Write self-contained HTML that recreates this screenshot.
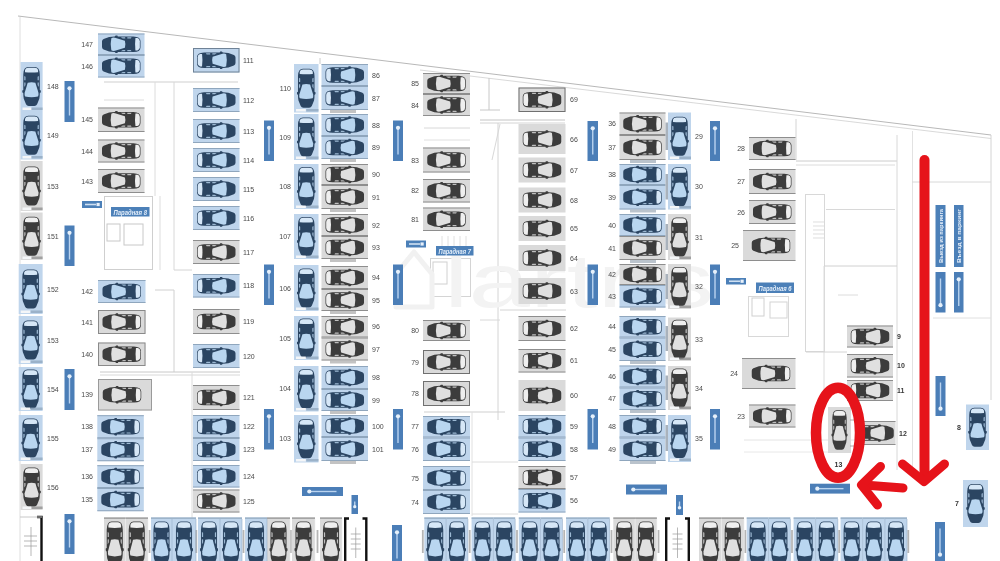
<!DOCTYPE html>
<html><head><meta charset="utf-8"><title>Parking plan</title>
<style>
html,body{margin:0;padding:0;background:#fff;}
body{width:1000px;height:561px;overflow:hidden;font-family:"Liberation Sans",sans-serif;}
svg{display:block;filter:blur(0.55px);}
.lb{font-family:"Liberation Sans",sans-serif;fill:#4a4a4a;}
text{font-family:"Liberation Sans",sans-serif;}
</style></head><body>
<svg width="1000" height="561" viewBox="0 0 1000 561">
<rect width="1000" height="561" fill="#ffffff"/>

<defs>
<symbol id="carB" overflow="visible"><g>
<path d="M0 5.2 Q0 3.6 1.6 3 L7 1.2 Q9 0.8 12.5 0.8 L13.5 0 L15.2 0 L15.6 0.8 L31 0.8 Q38 1 38 4.8 L38 10.2 Q38 14 31 14.2 L15.6 14.2 L15.2 15 L13.5 15 L12.5 14.2 Q9 14.2 7 13.8 L1.6 12 Q0 11.4 0 9.8 Z" fill="#2b4562"/>
<path d="M9.2 2.3 Q10.4 1.6 12.8 1.9 L22.6 4.4 Q23.6 7.5 22.6 10.6 L12.8 13.1 Q10.4 13.4 9.2 12.7 Q7.9 7.5 9.2 2.3 Z" fill="#b9d6f0"/>
<path d="M33 2.2 L35 2.2 Q37.3 2.7 37.3 5 L37.3 10 Q37.3 12.3 35 12.8 L33 12.8 Q32.2 7.5 33 2.2 Z" fill="#d6e7f7"/>
<path d="M18.5 1.6 L22.8 1.6 L23 2.6 L20.5 2.6 Z M25 1.6 L29.2 1.6 L28.5 2.6 L25 2.6 Z M18.5 13.4 L22.8 13.4 L23 12.4 L20.5 12.4 Z M25 13.4 L29.2 13.4 L28.5 12.4 L25 12.4 Z" fill="#b9d6f0" opacity=".8"/>
</g></symbol>
<symbol id="carG" overflow="visible"><g>
<path d="M0 5.2 Q0 3.6 1.6 3 L7 1.2 Q9 0.8 12.5 0.8 L13.5 0 L15.2 0 L15.6 0.8 L31 0.8 Q38 1 38 4.8 L38 10.2 Q38 14 31 14.2 L15.6 14.2 L15.2 15 L13.5 15 L12.5 14.2 Q9 14.2 7 13.8 L1.6 12 Q0 11.4 0 9.8 Z" fill="#3c3c3c"/>
<path d="M9.2 2.3 Q10.4 1.6 12.8 1.9 L22.6 4.4 Q23.6 7.5 22.6 10.6 L12.8 13.1 Q10.4 13.4 9.2 12.7 Q7.9 7.5 9.2 2.3 Z" fill="#e0e0e0"/>
<path d="M33 2.2 L35 2.2 Q37.3 2.7 37.3 5 L37.3 10 Q37.3 12.3 35 12.8 L33 12.8 Q32.2 7.5 33 2.2 Z" fill="#efefef"/>
<path d="M18.5 1.6 L22.8 1.6 L23 2.6 L20.5 2.6 Z M25 1.6 L29.2 1.6 L28.5 2.6 L25 2.6 Z M18.5 13.4 L22.8 13.4 L23 12.4 L20.5 12.4 Z M25 13.4 L29.2 13.4 L28.5 12.4 L25 12.4 Z" fill="#e0e0e0" opacity=".8"/>
</g></symbol>
</defs>

<line x1="18" y1="16" x2="991" y2="135" stroke="#b8b8b8" stroke-width="1"/>
<line x1="420" y1="70" x2="991" y2="138.5" stroke="#cfcfcf" stroke-width="0.8"/>
<line x1="20" y1="17" x2="20" y2="561" stroke="#dedede" stroke-width="1"/>
<line x1="991" y1="135" x2="991" y2="400" stroke="#d4d4d4" stroke-width="1"/>
<line x1="104" y1="82" x2="238" y2="82" stroke="#cfcfcf" stroke-width="1"/>
<line x1="104" y1="100" x2="144" y2="100" stroke="#dcdcdc" stroke-width="1"/>
<line x1="155" y1="82" x2="155" y2="196" stroke="#dcdcdc" stroke-width="1"/>
<line x1="174" y1="82" x2="174" y2="270" stroke="#d8d8d8" stroke-width="1"/>
<rect x="104.5" y="196.5" width="48" height="73" fill="none" stroke="#cfcfcf"/>
<rect x="107" y="224" width="13" height="17" fill="none" stroke="#c8c8c8"/>
<rect x="124" y="224" width="19" height="21" fill="none" stroke="#c8c8c8"/>
<line x1="160" y1="196" x2="160" y2="270" stroke="#dddddd" stroke-width="1"/>
<line x1="174" y1="270" x2="192" y2="270" stroke="#d4d4d4" stroke-width="1"/>
<line x1="155" y1="290" x2="174" y2="290" stroke="#d0d0d0" stroke-width="1"/>
<line x1="174" y1="290" x2="174" y2="372" stroke="#d0d0d0" stroke-width="1"/>
<line x1="100" y1="372" x2="240" y2="372" stroke="#c8c8c8" stroke-width="1"/>
<line x1="100" y1="375" x2="240" y2="375" stroke="#d8d8d8" stroke-width="1"/>
<line x1="192" y1="372" x2="192" y2="520" stroke="#dcdcdc" stroke-width="1"/>
<line x1="320" y1="58" x2="320" y2="64" stroke="#cccccc" stroke-width="1"/>
<line x1="424" y1="128" x2="470" y2="128" stroke="#d8d8d8" stroke-width="1"/>
<line x1="424" y1="140" x2="470" y2="140" stroke="#e0e0e0" stroke-width="1"/>
<line x1="489" y1="78" x2="489" y2="110" stroke="#c8c8c8" stroke-width="1"/>
<line x1="480" y1="110" x2="500" y2="110" stroke="#c8c8c8" stroke-width="1"/>
<line x1="480" y1="120" x2="565" y2="120" stroke="#c4c4c4" stroke-width="1"/>
<line x1="480" y1="123" x2="565" y2="123" stroke="#d4d4d4" stroke-width="1"/>
<line x1="498" y1="123" x2="498" y2="420" stroke="#d4d4d4" stroke-width="1"/>
<line x1="492" y1="160" x2="500" y2="124" stroke="#d8d8d8" stroke-width="1"/>
<rect x="430.5" y="258.5" width="40" height="38" fill="none" stroke="#d4d4d4"/>
<rect x="433" y="262" width="14" height="22" fill="none" stroke="#d0d0d0"/>
<line x1="442" y1="236" x2="442" y2="246" stroke="#d8d8d8" stroke-width="0.8"/>
<line x1="448" y1="236" x2="448" y2="246" stroke="#d8d8d8" stroke-width="0.8"/>
<line x1="454" y1="236" x2="454" y2="246" stroke="#d8d8d8" stroke-width="0.8"/>
<line x1="460" y1="236" x2="460" y2="246" stroke="#d8d8d8" stroke-width="0.8"/>
<line x1="466" y1="236" x2="466" y2="246" stroke="#d8d8d8" stroke-width="0.8"/>
<line x1="500" y1="271" x2="518" y2="271" stroke="#d0d0d0" stroke-width="1"/>
<line x1="500" y1="310" x2="566" y2="310" stroke="#d4d4d4" stroke-width="1"/>
<line x1="480" y1="320" x2="500" y2="320" stroke="#d8d8d8" stroke-width="1"/>
<line x1="424" y1="412" x2="505" y2="412" stroke="#cfcfcf" stroke-width="1"/>
<line x1="472" y1="412" x2="472" y2="516" stroke="#e0e0e0" stroke-width="1"/>
<line x1="472" y1="462" x2="518" y2="462" stroke="#dcdcdc" stroke-width="1"/>
<line x1="472" y1="514" x2="518" y2="514" stroke="#dcdcdc" stroke-width="1"/>
<line x1="796" y1="119" x2="796" y2="160" stroke="#d4d4d4" stroke-width="1"/>
<line x1="796" y1="161" x2="897" y2="161" stroke="#cccccc" stroke-width="1"/>
<line x1="796" y1="165" x2="895" y2="165" stroke="#dcdcdc" stroke-width="1"/>
<line x1="897" y1="135" x2="897" y2="470" stroke="#d8d8d8" stroke-width="1"/>
<line x1="912.5" y1="131" x2="912.5" y2="470" stroke="#e2e2e2" stroke-width="1"/>
<line x1="912" y1="182" x2="991" y2="182" stroke="#d8d8d8" stroke-width="1"/>
<rect x="805.5" y="194.5" width="19" height="157" fill="none" stroke="#d8d8d8"/>
<line x1="813" y1="222" x2="824" y2="222" stroke="#d0d0d0" stroke-width="0.7"/>
<line x1="813" y1="226" x2="824" y2="226" stroke="#d0d0d0" stroke-width="0.7"/>
<line x1="813" y1="230" x2="824" y2="230" stroke="#d0d0d0" stroke-width="0.7"/>
<line x1="813" y1="234" x2="824" y2="234" stroke="#d0d0d0" stroke-width="0.7"/>
<line x1="813" y1="238" x2="824" y2="238" stroke="#d0d0d0" stroke-width="0.7"/>
<line x1="826" y1="209.5" x2="895" y2="209.5" stroke="#d8d8d8" stroke-width="1"/>
<line x1="824" y1="266" x2="897" y2="266" stroke="#d0d0d0" stroke-width="1"/>
<line x1="824" y1="266" x2="824" y2="400" stroke="#dcdcdc" stroke-width="1"/>
<line x1="806" y1="352" x2="847" y2="352" stroke="#d4d4d4" stroke-width="1"/>
<line x1="838" y1="295" x2="858" y2="295" stroke="#dcdcdc" stroke-width="1"/>
<line x1="933" y1="318" x2="991" y2="318" stroke="#e0e0e0" stroke-width="1"/>
<rect x="748.5" y="296.5" width="40" height="40" fill="none" stroke="#d8d8d8"/>
<rect x="752" y="298" width="12" height="18" fill="none" stroke="#d0d0d0"/>
<rect x="770" y="302" width="17" height="16" fill="none" stroke="#d4d4d4"/>
<line x1="744" y1="440" x2="870" y2="440" stroke="#e4e4e4" stroke-width="1"/>
<line x1="744" y1="452" x2="830" y2="452" stroke="#e8e8e8" stroke-width="1"/>
<g><path d="M396 307 L396 274 L414 252 L432 274 L432 307 Z" fill="none" stroke="#f1f1f1" stroke-width="5" stroke-linejoin="round"/><text x="444" y="307" font-size="76" fill="#f3f3f3" textLength="270" lengthAdjust="spacingAndGlyphs">lartris</text></g>
<rect x="20.5" y="62" width="22.1" height="49" fill="#bfd5ec"/>
<use href="#carB" transform="translate(22.3,106.0) rotate(-90) scale(1.0263157894736843,1.2333333333333334)"/>
<rect x="22.5" y="107.5" width="8.840000000000002" height="2.5" fill="#f4f6f8"/>
<rect x="31.55" y="107.5" width="11.05" height="2.5" fill="#8fa6bd" opacity=".75"/>
<text x="47" y="89.0" text-anchor="start" font-size="7" class="lb">148</text>
<rect x="20.5" y="111" width="22.1" height="48.5" fill="#bfd5ec"/>
<use href="#carB" transform="translate(22.3,154.75) rotate(-90) scale(1.0263157894736843,1.2333333333333334)"/>
<rect x="22.5" y="156.0" width="8.840000000000002" height="2.5" fill="#f4f6f8"/>
<rect x="31.55" y="156.0" width="11.05" height="2.5" fill="#8fa6bd" opacity=".75"/>
<text x="47" y="137.75" text-anchor="start" font-size="7" class="lb">149</text>
<rect x="20.5" y="161" width="22.1" height="50" fill="#dadada"/>
<use href="#carG" transform="translate(22.3,205.5) rotate(-90) scale(1.0263157894736843,1.2333333333333334)"/>
<rect x="22.5" y="207.5" width="8.840000000000002" height="2.5" fill="#f4f6f8"/>
<rect x="31.55" y="207.5" width="11.05" height="2.5" fill="#8e8e8e" opacity=".75"/>
<text x="47" y="188.5" text-anchor="start" font-size="7" class="lb">153</text>
<rect x="20.5" y="212.5" width="22.1" height="47.5" fill="#dadada"/>
<use href="#carG" transform="translate(22.3,255.75) rotate(-90) scale(1.0263157894736843,1.2333333333333334)"/>
<rect x="22.5" y="256.5" width="8.840000000000002" height="2.5" fill="#f4f6f8"/>
<rect x="31.55" y="256.5" width="11.05" height="2.5" fill="#8e8e8e" opacity=".75"/>
<text x="47" y="238.75" text-anchor="start" font-size="7" class="lb">151</text>
<rect x="18.7" y="264" width="23.900000000000002" height="50" fill="#bfd5ec"/>
<use href="#carB" transform="translate(21.4,308.5) rotate(-90) scale(1.0263157894736843,1.2333333333333334)"/>
<rect x="20.7" y="310.5" width="9.56" height="2.5" fill="#f4f6f8"/>
<rect x="30.65" y="310.5" width="11.950000000000001" height="2.5" fill="#8fa6bd" opacity=".75"/>
<text x="47" y="291.5" text-anchor="start" font-size="7" class="lb">152</text>
<rect x="18.7" y="316" width="23.900000000000002" height="48" fill="#bfd5ec"/>
<use href="#carB" transform="translate(21.4,359.5) rotate(-90) scale(1.0263157894736843,1.2333333333333334)"/>
<rect x="20.7" y="360.5" width="9.56" height="2.5" fill="#f4f6f8"/>
<rect x="30.65" y="360.5" width="11.950000000000001" height="2.5" fill="#8fa6bd" opacity=".75"/>
<text x="47" y="342.5" text-anchor="start" font-size="7" class="lb">153</text>
<rect x="18.7" y="367" width="23.900000000000002" height="44" fill="#bfd5ec"/>
<use href="#carB" transform="translate(21.4,408.5) rotate(-90) scale(1.0263157894736843,1.2333333333333334)"/>
<rect x="20.7" y="407.5" width="9.56" height="2.5" fill="#f4f6f8"/>
<rect x="30.65" y="407.5" width="11.950000000000001" height="2.5" fill="#8fa6bd" opacity=".75"/>
<text x="47" y="391.5" text-anchor="start" font-size="7" class="lb">154</text>
<rect x="18.7" y="415" width="23.900000000000002" height="46" fill="#bfd5ec"/>
<use href="#carB" transform="translate(21.4,457.5) rotate(-90) scale(1.0263157894736843,1.2333333333333334)"/>
<rect x="20.7" y="457.5" width="9.56" height="2.5" fill="#f4f6f8"/>
<rect x="30.65" y="457.5" width="11.950000000000001" height="2.5" fill="#8fa6bd" opacity=".75"/>
<text x="47" y="440.5" text-anchor="start" font-size="7" class="lb">155</text>
<rect x="20.5" y="464" width="22.1" height="46" fill="#dadada"/>
<use href="#carG" transform="translate(22.3,506.5) rotate(-90) scale(1.0263157894736843,1.2333333333333334)"/>
<rect x="22.5" y="506.5" width="8.840000000000002" height="2.5" fill="#f4f6f8"/>
<rect x="31.55" y="506.5" width="11.05" height="2.5" fill="#8e8e8e" opacity=".75"/>
<text x="47" y="489.5" text-anchor="start" font-size="7" class="lb">156</text>
<rect x="64.5" y="81" width="10.0" height="41" fill="#4b7eb7"/>
<rect x="68.8" y="87.5" width="1.4" height="28" fill="#b9d3ef"/>
<circle cx="69.5" cy="88.3" r="2.1" fill="#e6f0fa"/>
<rect x="64.5" y="225.5" width="10.0" height="40.5" fill="#4b7eb7"/>
<rect x="68.8" y="232.0" width="1.4" height="27.5" fill="#b9d3ef"/>
<circle cx="69.5" cy="232.8" r="2.1" fill="#e6f0fa"/>
<rect x="64.5" y="369" width="10.0" height="41" fill="#4b7eb7"/>
<rect x="68.8" y="375.5" width="1.4" height="28" fill="#b9d3ef"/>
<circle cx="69.5" cy="376.3" r="2.1" fill="#e6f0fa"/>
<rect x="64.5" y="514" width="10.0" height="40" fill="#4b7eb7"/>
<rect x="68.8" y="520.5" width="1.4" height="27" fill="#b9d3ef"/>
<circle cx="69.5" cy="521.3" r="2.1" fill="#e6f0fa"/>
<rect x="98" y="33.5" width="46.5" height="21.5" fill="#bfd5ec"/>
<rect x="98" y="33.5" width="46.5" height="1" fill="#8fa6bd"/>
<rect x="98" y="54" width="46.5" height="1" fill="#8fa6bd"/>
<use href="#carB" transform="translate(102.0,35.5) scale(1.013157894736842,1.1666666666666667)"/>
<text x="93" y="46.75" text-anchor="end" font-size="7" class="lb">147</text>
<rect x="98" y="55" width="46.5" height="22.5" fill="#bfd5ec"/>
<rect x="98" y="55" width="46.5" height="1" fill="#8fa6bd"/>
<rect x="98" y="76.5" width="46.5" height="1" fill="#8fa6bd"/>
<use href="#carB" transform="translate(102.0,57.5) scale(1.013157894736842,1.1666666666666667)"/>
<text x="93" y="68.75" text-anchor="end" font-size="7" class="lb">146</text>
<rect x="98" y="107.5" width="46.5" height="24.5" fill="#dadada"/>
<rect x="98" y="107.5" width="46.5" height="1" fill="#8e8e8e"/>
<rect x="98" y="131" width="46.5" height="1" fill="#8e8e8e"/>
<use href="#carG" transform="translate(102.0,111.0) scale(1.013157894736842,1.1666666666666667)"/>
<text x="93" y="122.25" text-anchor="end" font-size="7" class="lb">145</text>
<rect x="98" y="139.5" width="46.5" height="23.0" fill="#dadada"/>
<rect x="98" y="139.5" width="46.5" height="1" fill="#8e8e8e"/>
<rect x="98" y="161.5" width="46.5" height="1" fill="#8e8e8e"/>
<use href="#carG" transform="translate(102.0,142.25) scale(1.013157894736842,1.1666666666666667)"/>
<text x="93" y="153.5" text-anchor="end" font-size="7" class="lb">144</text>
<rect x="98" y="169" width="46.5" height="24" fill="#dadada"/>
<rect x="98" y="169" width="46.5" height="1" fill="#8e8e8e"/>
<rect x="98" y="192" width="46.5" height="1" fill="#8e8e8e"/>
<use href="#carG" transform="translate(102.0,172.25) scale(1.013157894736842,1.1666666666666667)"/>
<text x="93" y="183.5" text-anchor="end" font-size="7" class="lb">143</text>
<rect x="98" y="280" width="47.5" height="23" fill="#bfd5ec"/>
<rect x="98" y="280" width="47.5" height="1" fill="#8fa6bd"/>
<rect x="98" y="302" width="47.5" height="1" fill="#8fa6bd"/>
<use href="#carB" transform="translate(102.5,282.75) scale(1.013157894736842,1.1666666666666667)"/>
<text x="93" y="294.0" text-anchor="end" font-size="7" class="lb">142</text>
<rect x="98" y="310" width="47.5" height="24" fill="#dadada"/>
<rect x="98.5" y="310.5" width="46.5" height="23" fill="none" stroke="#8a8a8a" stroke-width="1"/>
<use href="#carG" transform="translate(102.5,313.25) scale(1.013157894736842,1.1666666666666667)"/>
<text x="93" y="324.5" text-anchor="end" font-size="7" class="lb">141</text>
<rect x="98" y="342.5" width="47.5" height="23.5" fill="#dadada"/>
<rect x="98.5" y="343.0" width="46.5" height="22.5" fill="none" stroke="#8a8a8a" stroke-width="1"/>
<use href="#carG" transform="translate(102.5,345.5) scale(1.013157894736842,1.1666666666666667)"/>
<text x="93" y="356.75" text-anchor="end" font-size="7" class="lb">140</text>
<rect x="97.3" y="415.2" width="46.500000000000014" height="23.0" fill="#bfd5ec"/>
<rect x="97.3" y="415.2" width="46.500000000000014" height="1" fill="#8fa6bd"/>
<rect x="97.3" y="437.2" width="46.500000000000014" height="1" fill="#8fa6bd"/>
<use href="#carB" transform="translate(101.30000000000001,417.95) scale(1.013157894736842,1.1666666666666667)"/>
<text x="93" y="429.2" text-anchor="end" font-size="7" class="lb">138</text>
<rect x="97.3" y="438.2" width="46.500000000000014" height="23.0" fill="#bfd5ec"/>
<rect x="97.3" y="438.2" width="46.500000000000014" height="1" fill="#8fa6bd"/>
<rect x="97.3" y="460.2" width="46.500000000000014" height="1" fill="#8fa6bd"/>
<use href="#carB" transform="translate(101.30000000000001,440.95) scale(1.013157894736842,1.1666666666666667)"/>
<text x="93" y="452.2" text-anchor="end" font-size="7" class="lb">137</text>
<rect x="97.3" y="465.2" width="46.500000000000014" height="22.80000000000001" fill="#bfd5ec"/>
<rect x="97.3" y="465.2" width="46.500000000000014" height="1" fill="#8fa6bd"/>
<rect x="97.3" y="487" width="46.500000000000014" height="1" fill="#8fa6bd"/>
<use href="#carB" transform="translate(101.30000000000001,467.85) scale(1.013157894736842,1.1666666666666667)"/>
<text x="93" y="479.1" text-anchor="end" font-size="7" class="lb">136</text>
<rect x="97.3" y="488" width="46.500000000000014" height="23.19999999999999" fill="#bfd5ec"/>
<rect x="97.3" y="488" width="46.500000000000014" height="1" fill="#8fa6bd"/>
<rect x="97.3" y="510.2" width="46.500000000000014" height="1" fill="#8fa6bd"/>
<use href="#carB" transform="translate(101.30000000000001,490.85) scale(1.013157894736842,1.1666666666666667)"/>
<text x="93" y="502.1" text-anchor="end" font-size="7" class="lb">135</text>
<rect x="98" y="379" width="54" height="31.5" fill="#dadada"/>
<rect x="98.5" y="379.5" width="53" height="30.5" fill="none" stroke="#9a9a9a" stroke-width="1"/>
<use href="#carG" transform="translate(102.75,386.0) scale(1.013157894736842,1.1666666666666667)"/>
<text x="93" y="397" text-anchor="end" font-size="7" class="lb">139</text>
<rect x="193" y="48" width="46.5" height="24.5" fill="#bfd5ec"/>
<rect x="193.5" y="48.5" width="45.5" height="23.5" fill="none" stroke="#6f8296" stroke-width="1"/>
<use href="#carB" transform="translate(235.5,51.5) scale(-1.013157894736842,1.1666666666666667)"/>
<text x="243" y="62.75" text-anchor="start" font-size="7" class="lb">111</text>
<rect x="193" y="88" width="46.5" height="24" fill="#bfd5ec"/>
<rect x="193" y="88" width="46.5" height="1" fill="#8fa6bd"/>
<rect x="193" y="111" width="46.5" height="1" fill="#8fa6bd"/>
<use href="#carB" transform="translate(235.5,91.25) scale(-1.013157894736842,1.1666666666666667)"/>
<text x="243" y="102.5" text-anchor="start" font-size="7" class="lb">112</text>
<rect x="193" y="119" width="46.5" height="24" fill="#bfd5ec"/>
<rect x="193" y="119" width="46.5" height="1" fill="#8fa6bd"/>
<rect x="193" y="142" width="46.5" height="1" fill="#8fa6bd"/>
<use href="#carB" transform="translate(235.5,122.25) scale(-1.013157894736842,1.1666666666666667)"/>
<text x="243" y="133.5" text-anchor="start" font-size="7" class="lb">113</text>
<rect x="193" y="148" width="46.5" height="24" fill="#bfd5ec"/>
<rect x="193" y="148" width="46.5" height="1" fill="#8fa6bd"/>
<rect x="193" y="171" width="46.5" height="1" fill="#8fa6bd"/>
<use href="#carB" transform="translate(235.5,151.25) scale(-1.013157894736842,1.1666666666666667)"/>
<text x="243" y="162.5" text-anchor="start" font-size="7" class="lb">114</text>
<rect x="193" y="177" width="46.5" height="24" fill="#bfd5ec"/>
<rect x="193" y="177" width="46.5" height="1" fill="#8fa6bd"/>
<rect x="193" y="200" width="46.5" height="1" fill="#8fa6bd"/>
<use href="#carB" transform="translate(235.5,180.25) scale(-1.013157894736842,1.1666666666666667)"/>
<text x="243" y="191.5" text-anchor="start" font-size="7" class="lb">115</text>
<rect x="193" y="206" width="46.5" height="24" fill="#bfd5ec"/>
<rect x="193" y="206" width="46.5" height="1" fill="#8fa6bd"/>
<rect x="193" y="229" width="46.5" height="1" fill="#8fa6bd"/>
<use href="#carB" transform="translate(235.5,209.25) scale(-1.013157894736842,1.1666666666666667)"/>
<text x="243" y="220.5" text-anchor="start" font-size="7" class="lb">116</text>
<rect x="193" y="240" width="46.5" height="24" fill="#dadada"/>
<rect x="193" y="240" width="46.5" height="1" fill="#8e8e8e"/>
<rect x="193" y="263" width="46.5" height="1" fill="#8e8e8e"/>
<use href="#carG" transform="translate(235.5,243.25) scale(-1.013157894736842,1.1666666666666667)"/>
<text x="243" y="254.5" text-anchor="start" font-size="7" class="lb">117</text>
<rect x="193" y="274" width="46.5" height="23.5" fill="#bfd5ec"/>
<rect x="193" y="274" width="46.5" height="1" fill="#8fa6bd"/>
<rect x="193" y="296.5" width="46.5" height="1" fill="#8fa6bd"/>
<use href="#carB" transform="translate(235.5,277.0) scale(-1.013157894736842,1.1666666666666667)"/>
<text x="243" y="288.25" text-anchor="start" font-size="7" class="lb">118</text>
<rect x="193" y="309" width="46.5" height="25" fill="#dadada"/>
<rect x="193" y="309" width="46.5" height="1" fill="#8e8e8e"/>
<rect x="193" y="333" width="46.5" height="1" fill="#8e8e8e"/>
<use href="#carG" transform="translate(235.5,312.75) scale(-1.013157894736842,1.1666666666666667)"/>
<text x="243" y="324.0" text-anchor="start" font-size="7" class="lb">119</text>
<rect x="193" y="344" width="46.5" height="24" fill="#bfd5ec"/>
<rect x="193" y="344" width="46.5" height="1" fill="#8fa6bd"/>
<rect x="193" y="367" width="46.5" height="1" fill="#8fa6bd"/>
<use href="#carB" transform="translate(235.5,347.25) scale(-1.013157894736842,1.1666666666666667)"/>
<text x="243" y="358.5" text-anchor="start" font-size="7" class="lb">120</text>
<rect x="193" y="385" width="46.5" height="25" fill="#dadada"/>
<rect x="193" y="385" width="46.5" height="1" fill="#8e8e8e"/>
<rect x="193" y="409" width="46.5" height="1" fill="#8e8e8e"/>
<use href="#carG" transform="translate(235.5,388.75) scale(-1.013157894736842,1.1666666666666667)"/>
<text x="243" y="400.0" text-anchor="start" font-size="7" class="lb">121</text>
<rect x="193" y="415" width="46.5" height="23" fill="#bfd5ec"/>
<rect x="193" y="415" width="46.5" height="1" fill="#8fa6bd"/>
<rect x="193" y="437" width="46.5" height="1" fill="#8fa6bd"/>
<use href="#carB" transform="translate(235.5,417.75) scale(-1.013157894736842,1.1666666666666667)"/>
<text x="243" y="429.0" text-anchor="start" font-size="7" class="lb">122</text>
<rect x="193" y="438" width="46.5" height="23" fill="#bfd5ec"/>
<rect x="193" y="438" width="46.5" height="1" fill="#8fa6bd"/>
<rect x="193" y="460" width="46.5" height="1" fill="#8fa6bd"/>
<use href="#carB" transform="translate(235.5,440.75) scale(-1.013157894736842,1.1666666666666667)"/>
<text x="243" y="452.0" text-anchor="start" font-size="7" class="lb">123</text>
<rect x="193" y="465" width="46.5" height="22.5" fill="#bfd5ec"/>
<rect x="193" y="465" width="46.5" height="1" fill="#8fa6bd"/>
<rect x="193" y="486.5" width="46.5" height="1" fill="#8fa6bd"/>
<use href="#carB" transform="translate(235.5,467.5) scale(-1.013157894736842,1.1666666666666667)"/>
<text x="243" y="478.75" text-anchor="start" font-size="7" class="lb">124</text>
<rect x="193" y="489.5" width="46.5" height="23.0" fill="#dadada"/>
<rect x="193" y="489.5" width="46.5" height="1" fill="#8e8e8e"/>
<rect x="193" y="511.5" width="46.5" height="1" fill="#8e8e8e"/>
<use href="#carG" transform="translate(235.5,492.25) scale(-1.013157894736842,1.1666666666666667)"/>
<text x="243" y="503.5" text-anchor="start" font-size="7" class="lb">125</text>
<rect x="264" y="120.5" width="10" height="40.5" fill="#4b7eb7"/>
<rect x="268.3" y="127.0" width="1.4" height="27.5" fill="#b9d3ef"/>
<circle cx="269.0" cy="127.8" r="2.1" fill="#e6f0fa"/>
<rect x="393" y="120.5" width="10" height="40.5" fill="#4b7eb7"/>
<rect x="397.3" y="127.0" width="1.4" height="27.5" fill="#b9d3ef"/>
<circle cx="398.0" cy="127.8" r="2.1" fill="#e6f0fa"/>
<rect x="264" y="264.5" width="10" height="40.5" fill="#4b7eb7"/>
<rect x="268.3" y="271.0" width="1.4" height="27.5" fill="#b9d3ef"/>
<circle cx="269.0" cy="271.8" r="2.1" fill="#e6f0fa"/>
<rect x="393" y="264.5" width="10" height="40.5" fill="#4b7eb7"/>
<rect x="397.3" y="271.0" width="1.4" height="27.5" fill="#b9d3ef"/>
<circle cx="398.0" cy="271.8" r="2.1" fill="#e6f0fa"/>
<rect x="264" y="409" width="10" height="40.5" fill="#4b7eb7"/>
<rect x="268.3" y="415.5" width="1.4" height="27.5" fill="#b9d3ef"/>
<circle cx="269.0" cy="416.3" r="2.1" fill="#e6f0fa"/>
<rect x="393" y="409" width="10" height="40.5" fill="#4b7eb7"/>
<rect x="397.3" y="415.5" width="1.4" height="27.5" fill="#b9d3ef"/>
<circle cx="398.0" cy="416.3" r="2.1" fill="#e6f0fa"/>
<rect x="294" y="64" width="24.5" height="48.5" fill="#bfd5ec"/>
<use href="#carB" transform="translate(297.0,107.75) rotate(-90) scale(1.0263157894736843,1.2333333333333334)"/>
<rect x="296" y="109.0" width="9.8" height="2.5" fill="#f4f6f8"/>
<rect x="306.25" y="109.0" width="12.25" height="2.5" fill="#8fa6bd" opacity=".75"/>
<text x="291" y="90.75" text-anchor="end" font-size="7" class="lb">110</text>
<rect x="294" y="114" width="24.5" height="46" fill="#bfd5ec"/>
<use href="#carB" transform="translate(297.0,156.5) rotate(-90) scale(1.0263157894736843,1.2333333333333334)"/>
<rect x="296" y="156.5" width="9.8" height="2.5" fill="#f4f6f8"/>
<rect x="306.25" y="156.5" width="12.25" height="2.5" fill="#8fa6bd" opacity=".75"/>
<text x="291" y="139.5" text-anchor="end" font-size="7" class="lb">109</text>
<rect x="294" y="164" width="24.5" height="45" fill="#bfd5ec"/>
<use href="#carB" transform="translate(297.0,206.0) rotate(-90) scale(1.0263157894736843,1.2333333333333334)"/>
<rect x="296" y="205.5" width="9.8" height="2.5" fill="#f4f6f8"/>
<rect x="306.25" y="205.5" width="12.25" height="2.5" fill="#8fa6bd" opacity=".75"/>
<text x="291" y="189.0" text-anchor="end" font-size="7" class="lb">108</text>
<rect x="294" y="214" width="24.5" height="45" fill="#bfd5ec"/>
<use href="#carB" transform="translate(297.0,256.0) rotate(-90) scale(1.0263157894736843,1.2333333333333334)"/>
<rect x="296" y="255.5" width="9.8" height="2.5" fill="#f4f6f8"/>
<rect x="306.25" y="255.5" width="12.25" height="2.5" fill="#8fa6bd" opacity=".75"/>
<text x="291" y="239.0" text-anchor="end" font-size="7" class="lb">107</text>
<rect x="294" y="265" width="24.5" height="46" fill="#bfd5ec"/>
<use href="#carB" transform="translate(297.0,307.5) rotate(-90) scale(1.0263157894736843,1.2333333333333334)"/>
<rect x="296" y="307.5" width="9.8" height="2.5" fill="#f4f6f8"/>
<rect x="306.25" y="307.5" width="12.25" height="2.5" fill="#8fa6bd" opacity=".75"/>
<text x="291" y="290.5" text-anchor="end" font-size="7" class="lb">106</text>
<rect x="294" y="316" width="24.5" height="44" fill="#bfd5ec"/>
<use href="#carB" transform="translate(297.0,357.5) rotate(-90) scale(1.0263157894736843,1.2333333333333334)"/>
<rect x="296" y="356.5" width="9.8" height="2.5" fill="#f4f6f8"/>
<rect x="306.25" y="356.5" width="12.25" height="2.5" fill="#8fa6bd" opacity=".75"/>
<text x="291" y="340.5" text-anchor="end" font-size="7" class="lb">105</text>
<rect x="294" y="366" width="24.5" height="45.5" fill="#bfd5ec"/>
<use href="#carB" transform="translate(297.0,408.25) rotate(-90) scale(1.0263157894736843,1.2333333333333334)"/>
<rect x="296" y="408.0" width="9.8" height="2.5" fill="#f4f6f8"/>
<rect x="306.25" y="408.0" width="12.25" height="2.5" fill="#8fa6bd" opacity=".75"/>
<text x="291" y="391.25" text-anchor="end" font-size="7" class="lb">104</text>
<rect x="294" y="415" width="24.5" height="47.5" fill="#bfd5ec"/>
<use href="#carB" transform="translate(297.0,458.25) rotate(-90) scale(1.0263157894736843,1.2333333333333334)"/>
<rect x="296" y="459.0" width="9.8" height="2.5" fill="#f4f6f8"/>
<rect x="306.25" y="459.0" width="12.25" height="2.5" fill="#8fa6bd" opacity=".75"/>
<text x="291" y="441.25" text-anchor="end" font-size="7" class="lb">103</text>
<rect x="321.5" y="64" width="46.5" height="22" fill="#bfd5ec"/>
<rect x="321.5" y="64" width="46.5" height="1" fill="#8fa6bd"/>
<rect x="321.5" y="85" width="46.5" height="1" fill="#8fa6bd"/>
<use href="#carB" transform="translate(364.0,66.25) scale(-1.013157894736842,1.1666666666666667)"/>
<text x="372" y="77.5" text-anchor="start" font-size="7" class="lb">86</text>
<rect x="321.5" y="86" width="46.5" height="24" fill="#bfd5ec"/>
<rect x="321.5" y="86" width="46.5" height="1" fill="#8fa6bd"/>
<rect x="321.5" y="109" width="46.5" height="1" fill="#8fa6bd"/>
<use href="#carB" transform="translate(364.0,89.25) scale(-1.013157894736842,1.1666666666666667)"/>
<text x="372" y="100.5" text-anchor="start" font-size="7" class="lb">87</text>
<rect x="321.5" y="114" width="46.5" height="22" fill="#bfd5ec"/>
<rect x="321.5" y="114" width="46.5" height="1" fill="#8fa6bd"/>
<rect x="321.5" y="135" width="46.5" height="1" fill="#8fa6bd"/>
<use href="#carB" transform="translate(364.0,116.25) scale(-1.013157894736842,1.1666666666666667)"/>
<text x="372" y="127.5" text-anchor="start" font-size="7" class="lb">88</text>
<rect x="321.5" y="136" width="46.5" height="23" fill="#bfd5ec"/>
<rect x="321.5" y="136" width="46.5" height="1" fill="#8fa6bd"/>
<rect x="321.5" y="158" width="46.5" height="1" fill="#8fa6bd"/>
<use href="#carB" transform="translate(364.0,138.75) scale(-1.013157894736842,1.1666666666666667)"/>
<text x="372" y="150.0" text-anchor="start" font-size="7" class="lb">89</text>
<rect x="321.5" y="164" width="46.5" height="21" fill="#dadada"/>
<rect x="321.5" y="164" width="46.5" height="1" fill="#8e8e8e"/>
<rect x="321.5" y="184" width="46.5" height="1" fill="#8e8e8e"/>
<use href="#carG" transform="translate(364.0,165.75) scale(-1.013157894736842,1.1666666666666667)"/>
<text x="372" y="177.0" text-anchor="start" font-size="7" class="lb">90</text>
<rect x="321.5" y="185" width="46.5" height="24" fill="#dadada"/>
<rect x="321.5" y="185" width="46.5" height="1" fill="#8e8e8e"/>
<rect x="321.5" y="208" width="46.5" height="1" fill="#8e8e8e"/>
<use href="#carG" transform="translate(364.0,188.25) scale(-1.013157894736842,1.1666666666666667)"/>
<text x="372" y="199.5" text-anchor="start" font-size="7" class="lb">91</text>
<rect x="321.5" y="214" width="46.5" height="22" fill="#dadada"/>
<rect x="321.5" y="214" width="46.5" height="1" fill="#8e8e8e"/>
<rect x="321.5" y="235" width="46.5" height="1" fill="#8e8e8e"/>
<use href="#carG" transform="translate(364.0,216.25) scale(-1.013157894736842,1.1666666666666667)"/>
<text x="372" y="227.5" text-anchor="start" font-size="7" class="lb">92</text>
<rect x="321.5" y="236" width="46.5" height="23" fill="#dadada"/>
<rect x="321.5" y="236" width="46.5" height="1" fill="#8e8e8e"/>
<rect x="321.5" y="258" width="46.5" height="1" fill="#8e8e8e"/>
<use href="#carG" transform="translate(364.0,238.75) scale(-1.013157894736842,1.1666666666666667)"/>
<text x="372" y="250.0" text-anchor="start" font-size="7" class="lb">93</text>
<rect x="321.5" y="266" width="46.5" height="23" fill="#dadada"/>
<rect x="321.5" y="266" width="46.5" height="1" fill="#8e8e8e"/>
<rect x="321.5" y="288" width="46.5" height="1" fill="#8e8e8e"/>
<use href="#carG" transform="translate(364.0,268.75) scale(-1.013157894736842,1.1666666666666667)"/>
<text x="372" y="280.0" text-anchor="start" font-size="7" class="lb">94</text>
<rect x="321.5" y="289" width="46.5" height="22" fill="#dadada"/>
<rect x="321.5" y="289" width="46.5" height="1" fill="#8e8e8e"/>
<rect x="321.5" y="310" width="46.5" height="1" fill="#8e8e8e"/>
<use href="#carG" transform="translate(364.0,291.25) scale(-1.013157894736842,1.1666666666666667)"/>
<text x="372" y="302.5" text-anchor="start" font-size="7" class="lb">95</text>
<rect x="321.5" y="316" width="46.5" height="21.5" fill="#dadada"/>
<rect x="321.5" y="316" width="46.5" height="1" fill="#8e8e8e"/>
<rect x="321.5" y="336.5" width="46.5" height="1" fill="#8e8e8e"/>
<use href="#carG" transform="translate(364.0,318.0) scale(-1.013157894736842,1.1666666666666667)"/>
<text x="372" y="329.25" text-anchor="start" font-size="7" class="lb">96</text>
<rect x="321.5" y="337.5" width="46.5" height="23.0" fill="#dadada"/>
<rect x="321.5" y="337.5" width="46.5" height="1" fill="#8e8e8e"/>
<rect x="321.5" y="359.5" width="46.5" height="1" fill="#8e8e8e"/>
<use href="#carG" transform="translate(364.0,340.25) scale(-1.013157894736842,1.1666666666666667)"/>
<text x="372" y="351.5" text-anchor="start" font-size="7" class="lb">97</text>
<rect x="321.5" y="366" width="46.5" height="23" fill="#bfd5ec"/>
<rect x="321.5" y="366" width="46.5" height="1" fill="#8fa6bd"/>
<rect x="321.5" y="388" width="46.5" height="1" fill="#8fa6bd"/>
<use href="#carB" transform="translate(364.0,368.75) scale(-1.013157894736842,1.1666666666666667)"/>
<text x="372" y="380.0" text-anchor="start" font-size="7" class="lb">98</text>
<rect x="321.5" y="389" width="46.5" height="22" fill="#bfd5ec"/>
<rect x="321.5" y="389" width="46.5" height="1" fill="#8fa6bd"/>
<rect x="321.5" y="410" width="46.5" height="1" fill="#8fa6bd"/>
<use href="#carB" transform="translate(364.0,391.25) scale(-1.013157894736842,1.1666666666666667)"/>
<text x="372" y="402.5" text-anchor="start" font-size="7" class="lb">99</text>
<rect x="321.5" y="415" width="46.5" height="22" fill="#bfd5ec"/>
<rect x="321.5" y="415" width="46.5" height="1" fill="#8fa6bd"/>
<rect x="321.5" y="436" width="46.5" height="1" fill="#8fa6bd"/>
<use href="#carB" transform="translate(364.0,417.25) scale(-1.013157894736842,1.1666666666666667)"/>
<text x="372" y="428.5" text-anchor="start" font-size="7" class="lb">100</text>
<rect x="321.5" y="437" width="46.5" height="24" fill="#bfd5ec"/>
<rect x="321.5" y="437" width="46.5" height="1" fill="#8fa6bd"/>
<rect x="321.5" y="460" width="46.5" height="1" fill="#8fa6bd"/>
<use href="#carB" transform="translate(364.0,440.25) scale(-1.013157894736842,1.1666666666666667)"/>
<text x="372" y="451.5" text-anchor="start" font-size="7" class="lb">101</text>
<rect x="330" y="110" width="26" height="3" fill="#b4b4b4" opacity=".8"/>
<rect x="330" y="159" width="26" height="3" fill="#b4b4b4" opacity=".8"/>
<rect x="330" y="209" width="26" height="3" fill="#b4b4b4" opacity=".8"/>
<rect x="330" y="259" width="26" height="3" fill="#b4b4b4" opacity=".8"/>
<rect x="330" y="311" width="26" height="3" fill="#b4b4b4" opacity=".8"/>
<rect x="330" y="360.5" width="26" height="3" fill="#b4b4b4" opacity=".8"/>
<rect x="330" y="411" width="26" height="3" fill="#b4b4b4" opacity=".8"/>
<rect x="330" y="461" width="26" height="3" fill="#b4b4b4" opacity=".8"/>
<rect x="423" y="73" width="47" height="21" fill="#dadada"/>
<rect x="423" y="73" width="47" height="1" fill="#8e8e8e"/>
<rect x="423" y="93" width="47" height="1" fill="#8e8e8e"/>
<use href="#carG" transform="translate(427.25,74.75) scale(1.013157894736842,1.1666666666666667)"/>
<text x="419" y="86.0" text-anchor="end" font-size="7" class="lb">85</text>
<rect x="423" y="94" width="47" height="22" fill="#dadada"/>
<rect x="423" y="94" width="47" height="1" fill="#8e8e8e"/>
<rect x="423" y="115" width="47" height="1" fill="#8e8e8e"/>
<use href="#carG" transform="translate(427.25,96.25) scale(1.013157894736842,1.1666666666666667)"/>
<text x="419" y="107.5" text-anchor="end" font-size="7" class="lb">84</text>
<rect x="423" y="147.5" width="47" height="25.0" fill="#dadada"/>
<rect x="423" y="147.5" width="47" height="1" fill="#8e8e8e"/>
<rect x="423" y="171.5" width="47" height="1" fill="#8e8e8e"/>
<use href="#carG" transform="translate(427.25,151.25) scale(1.013157894736842,1.1666666666666667)"/>
<text x="419" y="162.5" text-anchor="end" font-size="7" class="lb">83</text>
<rect x="423" y="179" width="47" height="23.5" fill="#dadada"/>
<rect x="423" y="179" width="47" height="1" fill="#8e8e8e"/>
<rect x="423" y="201.5" width="47" height="1" fill="#8e8e8e"/>
<use href="#carG" transform="translate(427.25,182.0) scale(1.013157894736842,1.1666666666666667)"/>
<text x="419" y="193.25" text-anchor="end" font-size="7" class="lb">82</text>
<rect x="423" y="207.5" width="47" height="23.5" fill="#dadada"/>
<rect x="423" y="207.5" width="47" height="1" fill="#8e8e8e"/>
<rect x="423" y="230" width="47" height="1" fill="#8e8e8e"/>
<use href="#carG" transform="translate(427.25,210.5) scale(1.013157894736842,1.1666666666666667)"/>
<text x="419" y="221.75" text-anchor="end" font-size="7" class="lb">81</text>
<rect x="423" y="320" width="47" height="21" fill="#dadada"/>
<rect x="423" y="320" width="47" height="1" fill="#8e8e8e"/>
<rect x="423" y="340" width="47" height="1" fill="#8e8e8e"/>
<use href="#carG" transform="translate(427.25,321.75) scale(1.013157894736842,1.1666666666666667)"/>
<text x="419" y="333.0" text-anchor="end" font-size="7" class="lb">80</text>
<rect x="423" y="350" width="47" height="24" fill="#dadada"/>
<rect x="423.5" y="350.5" width="46" height="23" fill="none" stroke="#707070" stroke-width="1"/>
<use href="#carG" transform="translate(427.25,353.25) scale(1.013157894736842,1.1666666666666667)"/>
<text x="419" y="364.5" text-anchor="end" font-size="7" class="lb">79</text>
<rect x="423" y="381" width="47" height="25" fill="#dadada"/>
<rect x="423.5" y="381.5" width="46" height="24" fill="none" stroke="#707070" stroke-width="1"/>
<use href="#carG" transform="translate(427.25,384.75) scale(1.013157894736842,1.1666666666666667)"/>
<text x="419" y="396.0" text-anchor="end" font-size="7" class="lb">78</text>
<rect x="423" y="416" width="47" height="21.5" fill="#bfd5ec"/>
<rect x="423" y="416" width="47" height="1" fill="#8fa6bd"/>
<rect x="423" y="436.5" width="47" height="1" fill="#8fa6bd"/>
<use href="#carB" transform="translate(427.25,418.0) scale(1.013157894736842,1.1666666666666667)"/>
<text x="419" y="429.25" text-anchor="end" font-size="7" class="lb">77</text>
<rect x="423" y="437.5" width="47" height="23.5" fill="#bfd5ec"/>
<rect x="423" y="437.5" width="47" height="1" fill="#8fa6bd"/>
<rect x="423" y="460" width="47" height="1" fill="#8fa6bd"/>
<use href="#carB" transform="translate(427.25,440.5) scale(1.013157894736842,1.1666666666666667)"/>
<text x="419" y="451.75" text-anchor="end" font-size="7" class="lb">76</text>
<rect x="423" y="466" width="47" height="24" fill="#bfd5ec"/>
<rect x="423" y="466" width="47" height="1" fill="#8fa6bd"/>
<rect x="423" y="489" width="47" height="1" fill="#8fa6bd"/>
<use href="#carB" transform="translate(427.25,469.25) scale(1.013157894736842,1.1666666666666667)"/>
<text x="419" y="480.5" text-anchor="end" font-size="7" class="lb">75</text>
<rect x="423" y="490" width="47" height="24" fill="#bfd5ec"/>
<rect x="423" y="490" width="47" height="1" fill="#8fa6bd"/>
<rect x="423" y="513" width="47" height="1" fill="#8fa6bd"/>
<use href="#carB" transform="translate(427.25,493.25) scale(1.013157894736842,1.1666666666666667)"/>
<text x="419" y="504.5" text-anchor="end" font-size="7" class="lb">74</text>
<rect x="518.5" y="87.5" width="47.0" height="24.5" fill="#dadada"/>
<rect x="519.0" y="88.0" width="46.0" height="23.5" fill="none" stroke="#707070" stroke-width="1"/>
<use href="#carG" transform="translate(561.25,91.0) scale(-1.013157894736842,1.1666666666666667)"/>
<text x="570" y="102.25" text-anchor="start" font-size="7" class="lb">69</text>
<rect x="518.5" y="124" width="47.0" height="30" fill="#dadada"/>
<use href="#carG" transform="translate(561.25,130.25) scale(-1.013157894736842,1.1666666666666667)"/>
<text x="570" y="141.5" text-anchor="start" font-size="7" class="lb">66</text>
<rect x="518.5" y="157.5" width="47.0" height="25.0" fill="#dadada"/>
<use href="#carG" transform="translate(561.25,161.25) scale(-1.013157894736842,1.1666666666666667)"/>
<text x="570" y="172.5" text-anchor="start" font-size="7" class="lb">67</text>
<rect x="518.5" y="187.5" width="47.0" height="25.0" fill="#dadada"/>
<use href="#carG" transform="translate(561.25,191.25) scale(-1.013157894736842,1.1666666666666667)"/>
<text x="570" y="202.5" text-anchor="start" font-size="7" class="lb">68</text>
<rect x="518.5" y="216" width="47.0" height="25" fill="#dadada"/>
<use href="#carG" transform="translate(561.25,219.75) scale(-1.013157894736842,1.1666666666666667)"/>
<text x="570" y="231.0" text-anchor="start" font-size="7" class="lb">65</text>
<rect x="518.5" y="245" width="47.0" height="26" fill="#dadada"/>
<use href="#carG" transform="translate(561.25,249.25) scale(-1.013157894736842,1.1666666666666667)"/>
<text x="570" y="260.5" text-anchor="start" font-size="7" class="lb">64</text>
<rect x="518.5" y="278" width="47.0" height="26" fill="#dadada"/>
<use href="#carG" transform="translate(561.25,282.25) scale(-1.013157894736842,1.1666666666666667)"/>
<text x="570" y="293.5" text-anchor="start" font-size="7" class="lb">63</text>
<rect x="518.5" y="316" width="47.0" height="25" fill="#dadada"/>
<rect x="518.5" y="316" width="47.0" height="1" fill="#8e8e8e"/>
<rect x="518.5" y="340" width="47.0" height="1" fill="#8e8e8e"/>
<use href="#carG" transform="translate(561.25,319.75) scale(-1.013157894736842,1.1666666666666667)"/>
<text x="570" y="331.0" text-anchor="start" font-size="7" class="lb">62</text>
<rect x="518.5" y="349" width="47.0" height="23.5" fill="#dadada"/>
<rect x="518.5" y="349" width="47.0" height="1" fill="#8e8e8e"/>
<rect x="518.5" y="371.5" width="47.0" height="1" fill="#8e8e8e"/>
<use href="#carG" transform="translate(561.25,352.0) scale(-1.013157894736842,1.1666666666666667)"/>
<text x="570" y="363.25" text-anchor="start" font-size="7" class="lb">61</text>
<rect x="518.5" y="380" width="47.0" height="31" fill="#dadada"/>
<use href="#carG" transform="translate(561.25,386.75) scale(-1.013157894736842,1.1666666666666667)"/>
<text x="570" y="398.0" text-anchor="start" font-size="7" class="lb">60</text>
<rect x="518.5" y="415" width="47.0" height="22.5" fill="#bfd5ec"/>
<rect x="518.5" y="415" width="47.0" height="1" fill="#8fa6bd"/>
<rect x="518.5" y="436.5" width="47.0" height="1" fill="#8fa6bd"/>
<use href="#carB" transform="translate(561.25,417.5) scale(-1.013157894736842,1.1666666666666667)"/>
<text x="570" y="428.75" text-anchor="start" font-size="7" class="lb">59</text>
<rect x="518.5" y="437.5" width="47.0" height="23.5" fill="#bfd5ec"/>
<rect x="518.5" y="437.5" width="47.0" height="1" fill="#8fa6bd"/>
<rect x="518.5" y="460" width="47.0" height="1" fill="#8fa6bd"/>
<use href="#carB" transform="translate(561.25,440.5) scale(-1.013157894736842,1.1666666666666667)"/>
<text x="570" y="451.75" text-anchor="start" font-size="7" class="lb">58</text>
<rect x="518.5" y="466" width="47.0" height="23" fill="#dadada"/>
<rect x="518.5" y="466" width="47.0" height="1" fill="#8e8e8e"/>
<rect x="518.5" y="488" width="47.0" height="1" fill="#8e8e8e"/>
<use href="#carG" transform="translate(561.25,468.75) scale(-1.013157894736842,1.1666666666666667)"/>
<text x="570" y="480.0" text-anchor="start" font-size="7" class="lb">57</text>
<rect x="518.5" y="489" width="47.0" height="23.5" fill="#bfd5ec"/>
<rect x="518.5" y="489" width="47.0" height="1" fill="#8fa6bd"/>
<rect x="518.5" y="511.5" width="47.0" height="1" fill="#8fa6bd"/>
<use href="#carB" transform="translate(561.25,492.0) scale(-1.013157894736842,1.1666666666666667)"/>
<text x="570" y="503.25" text-anchor="start" font-size="7" class="lb">56</text>
<rect x="587.5" y="121" width="10.5" height="40" fill="#4b7eb7"/>
<rect x="592.05" y="127.5" width="1.4" height="27" fill="#b9d3ef"/>
<circle cx="592.75" cy="128.3" r="2.1" fill="#e6f0fa"/>
<rect x="710" y="121" width="10" height="40" fill="#4b7eb7"/>
<rect x="714.3" y="127.5" width="1.4" height="27" fill="#b9d3ef"/>
<circle cx="715.0" cy="128.3" r="2.1" fill="#e6f0fa"/>
<rect x="587.5" y="264.5" width="10.5" height="40.5" fill="#4b7eb7"/>
<rect x="592.05" y="271.0" width="1.4" height="27.5" fill="#b9d3ef"/>
<circle cx="592.75" cy="271.8" r="2.1" fill="#e6f0fa"/>
<rect x="710" y="264.5" width="10" height="40.5" fill="#4b7eb7"/>
<rect x="714.3" y="271.0" width="1.4" height="27.5" fill="#b9d3ef"/>
<circle cx="715.0" cy="271.8" r="2.1" fill="#e6f0fa"/>
<rect x="587.5" y="409" width="10.5" height="40.5" fill="#4b7eb7"/>
<rect x="592.05" y="415.5" width="1.4" height="27.5" fill="#b9d3ef"/>
<circle cx="592.75" cy="416.3" r="2.1" fill="#e6f0fa"/>
<rect x="710" y="409" width="10" height="40.5" fill="#4b7eb7"/>
<rect x="714.3" y="415.5" width="1.4" height="27.5" fill="#b9d3ef"/>
<circle cx="715.0" cy="416.3" r="2.1" fill="#e6f0fa"/>
<rect x="619.5" y="112.5" width="46.0" height="22.5" fill="#dadada"/>
<rect x="619.5" y="112.5" width="46.0" height="1" fill="#8e8e8e"/>
<rect x="619.5" y="134" width="46.0" height="1" fill="#8e8e8e"/>
<use href="#carG" transform="translate(623.25,115.0) scale(1.013157894736842,1.1666666666666667)"/>
<text x="616" y="126.25" text-anchor="end" font-size="7" class="lb">36</text>
<rect x="619.5" y="135" width="46.0" height="25" fill="#dadada"/>
<rect x="619.5" y="135" width="46.0" height="1" fill="#8e8e8e"/>
<rect x="619.5" y="159" width="46.0" height="1" fill="#8e8e8e"/>
<use href="#carG" transform="translate(623.25,138.75) scale(1.013157894736842,1.1666666666666667)"/>
<text x="616" y="150.0" text-anchor="end" font-size="7" class="lb">37</text>
<rect x="619.5" y="164" width="46.0" height="21" fill="#bfd5ec"/>
<rect x="619.5" y="164" width="46.0" height="1" fill="#8fa6bd"/>
<rect x="619.5" y="184" width="46.0" height="1" fill="#8fa6bd"/>
<use href="#carB" transform="translate(623.25,165.75) scale(1.013157894736842,1.1666666666666667)"/>
<text x="616" y="177.0" text-anchor="end" font-size="7" class="lb">38</text>
<rect x="619.5" y="185" width="46.0" height="24.5" fill="#bfd5ec"/>
<rect x="619.5" y="185" width="46.0" height="1" fill="#8fa6bd"/>
<rect x="619.5" y="208.5" width="46.0" height="1" fill="#8fa6bd"/>
<use href="#carB" transform="translate(623.25,188.5) scale(1.013157894736842,1.1666666666666667)"/>
<text x="616" y="199.75" text-anchor="end" font-size="7" class="lb">39</text>
<rect x="619.5" y="214" width="46.0" height="22" fill="#bfd5ec"/>
<rect x="619.5" y="214" width="46.0" height="1" fill="#8fa6bd"/>
<rect x="619.5" y="235" width="46.0" height="1" fill="#8fa6bd"/>
<use href="#carB" transform="translate(623.25,216.25) scale(1.013157894736842,1.1666666666666667)"/>
<text x="616" y="227.5" text-anchor="end" font-size="7" class="lb">40</text>
<rect x="619.5" y="236" width="46.0" height="24" fill="#dadada"/>
<rect x="619.5" y="236" width="46.0" height="1" fill="#8e8e8e"/>
<rect x="619.5" y="259" width="46.0" height="1" fill="#8e8e8e"/>
<use href="#carG" transform="translate(623.25,239.25) scale(1.013157894736842,1.1666666666666667)"/>
<text x="616" y="250.5" text-anchor="end" font-size="7" class="lb">41</text>
<rect x="619.5" y="264" width="46.0" height="21" fill="#dadada"/>
<rect x="619.5" y="264" width="46.0" height="1" fill="#8e8e8e"/>
<rect x="619.5" y="284" width="46.0" height="1" fill="#8e8e8e"/>
<use href="#carG" transform="translate(623.25,265.75) scale(1.013157894736842,1.1666666666666667)"/>
<text x="616" y="277.0" text-anchor="end" font-size="7" class="lb">42</text>
<rect x="619.5" y="285" width="46.0" height="22.5" fill="#bfd5ec"/>
<rect x="619.5" y="285" width="46.0" height="1" fill="#8fa6bd"/>
<rect x="619.5" y="306.5" width="46.0" height="1" fill="#8fa6bd"/>
<use href="#carB" transform="translate(623.25,287.5) scale(1.013157894736842,1.1666666666666667)"/>
<text x="616" y="298.75" text-anchor="end" font-size="7" class="lb">43</text>
<rect x="619.5" y="316" width="46.0" height="21.5" fill="#bfd5ec"/>
<rect x="619.5" y="316" width="46.0" height="1" fill="#8fa6bd"/>
<rect x="619.5" y="336.5" width="46.0" height="1" fill="#8fa6bd"/>
<use href="#carB" transform="translate(623.25,318.0) scale(1.013157894736842,1.1666666666666667)"/>
<text x="616" y="329.25" text-anchor="end" font-size="7" class="lb">44</text>
<rect x="619.5" y="337.5" width="46.0" height="23.5" fill="#bfd5ec"/>
<rect x="619.5" y="337.5" width="46.0" height="1" fill="#8fa6bd"/>
<rect x="619.5" y="360" width="46.0" height="1" fill="#8fa6bd"/>
<use href="#carB" transform="translate(623.25,340.5) scale(1.013157894736842,1.1666666666666667)"/>
<text x="616" y="351.75" text-anchor="end" font-size="7" class="lb">45</text>
<rect x="619.5" y="365.5" width="46.0" height="22.0" fill="#bfd5ec"/>
<rect x="619.5" y="365.5" width="46.0" height="1" fill="#8fa6bd"/>
<rect x="619.5" y="386.5" width="46.0" height="1" fill="#8fa6bd"/>
<use href="#carB" transform="translate(623.25,367.75) scale(1.013157894736842,1.1666666666666667)"/>
<text x="616" y="379.0" text-anchor="end" font-size="7" class="lb">46</text>
<rect x="619.5" y="387.5" width="46.0" height="22.5" fill="#bfd5ec"/>
<rect x="619.5" y="387.5" width="46.0" height="1" fill="#8fa6bd"/>
<rect x="619.5" y="409" width="46.0" height="1" fill="#8fa6bd"/>
<use href="#carB" transform="translate(623.25,390.0) scale(1.013157894736842,1.1666666666666667)"/>
<text x="616" y="401.25" text-anchor="end" font-size="7" class="lb">47</text>
<rect x="619.5" y="415" width="46.0" height="22.5" fill="#bfd5ec"/>
<rect x="619.5" y="415" width="46.0" height="1" fill="#8fa6bd"/>
<rect x="619.5" y="436.5" width="46.0" height="1" fill="#8fa6bd"/>
<use href="#carB" transform="translate(623.25,417.5) scale(1.013157894736842,1.1666666666666667)"/>
<text x="616" y="428.75" text-anchor="end" font-size="7" class="lb">48</text>
<rect x="619.5" y="437.5" width="46.0" height="23.5" fill="#bfd5ec"/>
<rect x="619.5" y="437.5" width="46.0" height="1" fill="#8fa6bd"/>
<rect x="619.5" y="460" width="46.0" height="1" fill="#8fa6bd"/>
<use href="#carB" transform="translate(623.25,440.5) scale(1.013157894736842,1.1666666666666667)"/>
<text x="616" y="451.75" text-anchor="end" font-size="7" class="lb">49</text>
<rect x="630" y="160" width="26" height="3" fill="#a9b4bf" opacity=".8"/>
<rect x="630" y="209.5" width="26" height="3" fill="#a9b4bf" opacity=".8"/>
<rect x="630" y="260" width="26" height="3" fill="#a9b4bf" opacity=".8"/>
<rect x="630" y="307.5" width="26" height="3" fill="#a9b4bf" opacity=".8"/>
<rect x="630" y="361" width="26" height="3" fill="#a9b4bf" opacity=".8"/>
<rect x="630" y="410" width="26" height="3" fill="#a9b4bf" opacity=".8"/>
<rect x="630" y="461" width="26" height="3" fill="#a9b4bf" opacity=".8"/>
<rect x="665.5" y="122.5" width="2.5" height="27.5" fill="#a9b2bc"/>
<rect x="665.5" y="174" width="2.5" height="25.5" fill="#a9b2bc"/>
<rect x="665.5" y="224" width="2.5" height="26" fill="#a9b2bc"/>
<rect x="665.5" y="274" width="2.5" height="25" fill="#a9b2bc"/>
<rect x="665.5" y="326" width="2.5" height="25" fill="#a9b2bc"/>
<rect x="665.5" y="375.5" width="2.5" height="24.5" fill="#a9b2bc"/>
<rect x="665.5" y="425" width="2.5" height="26" fill="#a9b2bc"/>
<rect x="668" y="112.5" width="23" height="47.5" fill="#bfd5ec"/>
<use href="#carB" transform="translate(670.25,155.75) rotate(-90) scale(1.0263157894736843,1.2333333333333334)"/>
<rect x="670" y="156.5" width="9.200000000000001" height="2.5" fill="#f4f6f8"/>
<rect x="679.5" y="156.5" width="11.5" height="2.5" fill="#8fa6bd" opacity=".75"/>
<text x="695" y="138.75" text-anchor="start" font-size="7" class="lb">29</text>
<rect x="668" y="164" width="23" height="45.5" fill="#bfd5ec"/>
<use href="#carB" transform="translate(670.25,206.25) rotate(-90) scale(1.0263157894736843,1.2333333333333334)"/>
<rect x="670" y="206.0" width="9.200000000000001" height="2.5" fill="#f4f6f8"/>
<rect x="679.5" y="206.0" width="11.5" height="2.5" fill="#8fa6bd" opacity=".75"/>
<text x="695" y="189.25" text-anchor="start" font-size="7" class="lb">30</text>
<rect x="668" y="214" width="23" height="46" fill="#dadada"/>
<use href="#carG" transform="translate(670.25,256.5) rotate(-90) scale(1.0263157894736843,1.2333333333333334)"/>
<rect x="670" y="256.5" width="9.200000000000001" height="2.5" fill="#f4f6f8"/>
<rect x="679.5" y="256.5" width="11.5" height="2.5" fill="#8e8e8e" opacity=".75"/>
<text x="695" y="239.5" text-anchor="start" font-size="7" class="lb">31</text>
<rect x="668" y="264" width="23" height="45" fill="#dadada"/>
<use href="#carG" transform="translate(670.25,306.0) rotate(-90) scale(1.0263157894736843,1.2333333333333334)"/>
<rect x="670" y="305.5" width="9.200000000000001" height="2.5" fill="#f4f6f8"/>
<rect x="679.5" y="305.5" width="11.5" height="2.5" fill="#8e8e8e" opacity=".75"/>
<text x="695" y="289.0" text-anchor="start" font-size="7" class="lb">32</text>
<rect x="668" y="317.5" width="23" height="43.5" fill="#dadada"/>
<use href="#carG" transform="translate(670.25,358.75) rotate(-90) scale(1.0263157894736843,1.2333333333333334)"/>
<rect x="670" y="357.5" width="9.200000000000001" height="2.5" fill="#f4f6f8"/>
<rect x="679.5" y="357.5" width="11.5" height="2.5" fill="#8e8e8e" opacity=".75"/>
<text x="695" y="341.75" text-anchor="start" font-size="7" class="lb">33</text>
<rect x="668" y="366" width="23" height="44" fill="#dadada"/>
<use href="#carG" transform="translate(670.25,407.5) rotate(-90) scale(1.0263157894736843,1.2333333333333334)"/>
<rect x="670" y="406.5" width="9.200000000000001" height="2.5" fill="#f4f6f8"/>
<rect x="679.5" y="406.5" width="11.5" height="2.5" fill="#8e8e8e" opacity=".75"/>
<text x="695" y="390.5" text-anchor="start" font-size="7" class="lb">34</text>
<rect x="668" y="415" width="23" height="47" fill="#bfd5ec"/>
<use href="#carB" transform="translate(670.25,458.0) rotate(-90) scale(1.0263157894736843,1.2333333333333334)"/>
<rect x="670" y="458.5" width="9.200000000000001" height="2.5" fill="#f4f6f8"/>
<rect x="679.5" y="458.5" width="11.5" height="2.5" fill="#8fa6bd" opacity=".75"/>
<text x="695" y="441.0" text-anchor="start" font-size="7" class="lb">35</text>
<rect x="749" y="137" width="46.5" height="23" fill="#dadada"/>
<rect x="749" y="137" width="46.5" height="1" fill="#8e8e8e"/>
<rect x="749" y="159" width="46.5" height="1" fill="#8e8e8e"/>
<use href="#carG" transform="translate(753.0,139.75) scale(1.013157894736842,1.1666666666666667)"/>
<text x="745" y="151.0" text-anchor="end" font-size="7" class="lb">28</text>
<rect x="749" y="169" width="46.5" height="25" fill="#dadada"/>
<rect x="749" y="169" width="46.5" height="1" fill="#8e8e8e"/>
<rect x="749" y="193" width="46.5" height="1" fill="#8e8e8e"/>
<use href="#carG" transform="translate(753.0,172.75) scale(1.013157894736842,1.1666666666666667)"/>
<text x="745" y="184.0" text-anchor="end" font-size="7" class="lb">27</text>
<rect x="749" y="200" width="46.5" height="24" fill="#dadada"/>
<rect x="749" y="200" width="46.5" height="1" fill="#8e8e8e"/>
<rect x="749" y="223" width="46.5" height="1" fill="#8e8e8e"/>
<use href="#carG" transform="translate(753.0,203.25) scale(1.013157894736842,1.1666666666666667)"/>
<text x="745" y="214.5" text-anchor="end" font-size="7" class="lb">26</text>
<rect x="743" y="230" width="52.5" height="31" fill="#dadada"/>
<rect x="743" y="230" width="52.5" height="1" fill="#8e8e8e"/>
<rect x="743" y="260" width="52.5" height="1" fill="#8e8e8e"/>
<use href="#carG" transform="translate(751.75,236.75) scale(1.013157894736842,1.1666666666666667)"/>
<text x="739" y="248.0" text-anchor="end" font-size="7" class="lb">25</text>
<rect x="742" y="358" width="53.5" height="31" fill="#dadada"/>
<rect x="742" y="358" width="53.5" height="1" fill="#8e8e8e"/>
<rect x="742" y="388" width="53.5" height="1" fill="#8e8e8e"/>
<use href="#carG" transform="translate(751.75,364.75) scale(1.013157894736842,1.1666666666666667)"/>
<text x="738" y="376.0" text-anchor="end" font-size="7" class="lb">24</text>
<rect x="749" y="404.5" width="46.5" height="23.0" fill="#dadada"/>
<rect x="749" y="404.5" width="46.5" height="1" fill="#8e8e8e"/>
<rect x="749" y="426.5" width="46.5" height="1" fill="#8e8e8e"/>
<use href="#carG" transform="translate(753.0,407.25) scale(1.013157894736842,1.1666666666666667)"/>
<text x="745" y="418.5" text-anchor="end" font-size="7" class="lb">23</text>
<rect x="847" y="325.5" width="46" height="22.0" fill="#dadada"/>
<rect x="847" y="325.5" width="46" height="1" fill="#8e8e8e"/>
<rect x="847" y="346.5" width="46" height="1" fill="#8e8e8e"/>
<use href="#carG" transform="translate(889.25,327.75) scale(-1.013157894736842,1.1666666666666667)"/>
<text x="897" y="339.0" text-anchor="start" font-size="7" class="lb" font-weight="bold" style="fill:#3a3a3a">9</text>
<rect x="847" y="354" width="46" height="23.5" fill="#dadada"/>
<rect x="847" y="354" width="46" height="1" fill="#8e8e8e"/>
<rect x="847" y="376.5" width="46" height="1" fill="#8e8e8e"/>
<use href="#carG" transform="translate(889.25,357.0) scale(-1.013157894736842,1.1666666666666667)"/>
<text x="897" y="368.25" text-anchor="start" font-size="7" class="lb" font-weight="bold" style="fill:#3a3a3a">10</text>
<rect x="847" y="380" width="46" height="21" fill="#dadada"/>
<rect x="847" y="380" width="46" height="1" fill="#8e8e8e"/>
<rect x="847" y="400" width="46" height="1" fill="#8e8e8e"/>
<use href="#carG" transform="translate(889.25,381.75) scale(-1.013157894736842,1.1666666666666667)"/>
<text x="897" y="393.0" text-anchor="start" font-size="7" class="lb" font-weight="bold" style="fill:#3a3a3a">11</text>
<rect x="860" y="421" width="35.5" height="24" fill="#dadada"/>
<rect x="860" y="421" width="35.5" height="1" fill="#8e8e8e"/>
<rect x="860" y="444" width="35.5" height="1" fill="#8e8e8e"/>
<use href="#carG" transform="translate(893.75,424.25) scale(-1.013157894736842,1.1666666666666667)"/>
<text x="899" y="436" text-anchor="start" font-size="7" class="lb" font-weight="bold" style="fill:#3a3a3a">12</text>
<rect x="828" y="407" width="23" height="46" fill="#dadada"/>
<use href="#carG" transform="translate(831.5,449.75) rotate(-90) scale(1.0394736842105263,1.0666666666666667)"/>
<text x="838.5" y="467" text-anchor="middle" font-size="7" font-weight="bold" fill="#333">13</text>
<line x1="850" y1="420" x2="860" y2="420" stroke="#9a9a9a" stroke-width="0.8"/>
<line x1="850" y1="446" x2="860" y2="446" stroke="#9a9a9a" stroke-width="0.8"/>
<rect x="966" y="404.5" width="23" height="45.5" fill="#bfd5ec"/>
<use href="#carB" transform="translate(968.25,446.75) rotate(-90) scale(1.0263157894736843,1.2333333333333334)"/>
<text x="961" y="430" text-anchor="end" font-size="7" class="lb" font-weight="bold" style="fill:#3a3a3a">8</text>
<rect x="963" y="480" width="25" height="47" fill="#bfd5ec"/>
<use href="#carB" transform="translate(966.25,523.0) rotate(-90) scale(1.0263157894736843,1.2333333333333334)"/>
<text x="959" y="506" text-anchor="end" font-size="7" class="lb" font-weight="bold" style="fill:#3a3a3a">7</text>
<rect x="935.5" y="205" width="10.0" height="62" fill="#4c80b8"/>
<text transform="translate(942.5,236.0) rotate(-90)" text-anchor="middle" font-size="6" fill="#e8f0fa" font-weight="bold" textLength="54" lengthAdjust="spacingAndGlyphs">Выезд из паркинга</text>
<rect x="954" y="205" width="9.5" height="62" fill="#4c80b8"/>
<text transform="translate(960.75,236.0) rotate(-90)" text-anchor="middle" font-size="6" fill="#e8f0fa" font-weight="bold" textLength="54" lengthAdjust="spacingAndGlyphs">Въезд в паркинг</text>
<rect x="935.5" y="272" width="10.0" height="40.5" fill="#4b7eb7"/>
<rect x="939.8" y="278.5" width="1.4" height="27.5" fill="#b9d3ef"/>
<circle cx="940.5" cy="305.2" r="2.1" fill="#e6f0fa"/>
<rect x="954" y="272" width="9.5" height="40.5" fill="#4b7eb7"/>
<rect x="958.05" y="278.5" width="1.4" height="27.5" fill="#b9d3ef"/>
<circle cx="958.75" cy="279.3" r="2.1" fill="#e6f0fa"/>
<rect x="935.5" y="376" width="10.0" height="40" fill="#4b7eb7"/>
<rect x="939.8" y="382.5" width="1.4" height="27" fill="#b9d3ef"/>
<circle cx="940.5" cy="408.7" r="2.1" fill="#e6f0fa"/>
<rect x="935" y="522" width="10" height="40" fill="#4b7eb7"/>
<rect x="939.3" y="528.5" width="1.4" height="27" fill="#b9d3ef"/>
<circle cx="940.0" cy="554.7" r="2.1" fill="#e6f0fa"/>
<rect x="392" y="525" width="10" height="40" fill="#4b7eb7"/>
<rect x="396.3" y="531.5" width="1.4" height="27" fill="#b9d3ef"/>
<circle cx="397.0" cy="532.3" r="2.1" fill="#e6f0fa"/>
<rect x="351.5" y="495" width="6.5" height="19" fill="#4b7eb7"/>
<rect x="354.05" y="501.5" width="1.4" height="6" fill="#b9d3ef"/>
<circle cx="354.75" cy="506.7" r="1.625" fill="#e6f0fa"/>
<rect x="676" y="495" width="7" height="20" fill="#4b7eb7"/>
<rect x="678.8" y="501.5" width="1.4" height="7" fill="#b9d3ef"/>
<circle cx="679.5" cy="507.7" r="1.75" fill="#e6f0fa"/>
<rect x="302" y="487" width="41" height="9" fill="#4b7eb7"/>
<rect x="308.5" y="490.8" width="28" height="1.4" fill="#b9d3ef"/>
<circle cx="309.3" cy="491.5" r="2.1" fill="#e6f0fa"/>
<rect x="626" y="484.5" width="41" height="10.0" fill="#4b7eb7"/>
<rect x="632.5" y="488.8" width="28" height="1.4" fill="#b9d3ef"/>
<circle cx="633.3" cy="489.5" r="2.1" fill="#e6f0fa"/>
<rect x="810" y="483.7" width="40" height="9.900000000000034" fill="#4b7eb7"/>
<rect x="816.5" y="487.95" width="27" height="1.4" fill="#b9d3ef"/>
<circle cx="817.3" cy="488.65" r="2.1" fill="#e6f0fa"/>
<rect x="111" y="207" width="38.5" height="9.5" fill="#4c80b8"/>
<text x="130.25" y="214.5" text-anchor="middle" font-size="6.5" font-weight="bold" font-style="italic" fill="#e4eefa" textLength="33.5" lengthAdjust="spacingAndGlyphs">Парадная 8</text>
<rect x="436" y="246" width="37.5" height="9.5" fill="#4c80b8"/>
<text x="454.75" y="253.5" text-anchor="middle" font-size="6.5" font-weight="bold" font-style="italic" fill="#e4eefa" textLength="32.5" lengthAdjust="spacingAndGlyphs">Парадная 7</text>
<rect x="756" y="282.5" width="38" height="10.5" fill="#4c80b8"/>
<text x="775.0" y="291" text-anchor="middle" font-size="6.5" font-weight="bold" font-style="italic" fill="#e4eefa" textLength="33" lengthAdjust="spacingAndGlyphs">Парадная 6</text>
<rect x="82" y="201" width="20" height="7" fill="#4c80b8"/>
<rect x="85" y="203.7" width="11" height="1.6" fill="#cfe0f2"/>
<rect x="96.5" y="202.9" width="3.2" height="3.2" fill="#e8f0fa"/>
<rect x="406" y="240.5" width="20" height="7.0" fill="#4c80b8"/>
<rect x="409" y="243.2" width="11" height="1.6" fill="#cfe0f2"/>
<rect x="420.5" y="242.4" width="3.2" height="3.2" fill="#e8f0fa"/>
<rect x="726" y="278" width="20" height="6.5" fill="#4c80b8"/>
<rect x="729" y="280.45" width="11" height="1.6" fill="#cfe0f2"/>
<rect x="740.5" y="279.65" width="3.2" height="3.2" fill="#e8f0fa"/>
<rect x="104" y="517.5" width="21.5" height="44" fill="#dadada"/>
<rect x="104" y="517.5" width="21.5" height="1.2" fill="#8e8e8e"/>
<use href="#carG" transform="translate(105.75,566.5) rotate(-90) scale(1.1842105263157894,1.2)"/>
<rect x="125.5" y="517.5" width="22.5" height="44" fill="#dadada"/>
<rect x="125.5" y="517.5" width="22.5" height="1.2" fill="#8e8e8e"/>
<use href="#carG" transform="translate(127.75,566.5) rotate(-90) scale(1.1842105263157894,1.2)"/>
<rect x="151" y="517.5" width="21" height="44" fill="#bfd5ec"/>
<rect x="151" y="517.5" width="21" height="1.2" fill="#8fa6bd"/>
<use href="#carB" transform="translate(152.5,566.5) rotate(-90) scale(1.1842105263157894,1.2)"/>
<rect x="172" y="517.5" width="24" height="44" fill="#bfd5ec"/>
<rect x="172" y="517.5" width="24" height="1.2" fill="#8fa6bd"/>
<use href="#carB" transform="translate(175.0,566.5) rotate(-90) scale(1.1842105263157894,1.2)"/>
<rect x="198" y="517.5" width="22" height="44" fill="#bfd5ec"/>
<rect x="198" y="517.5" width="22" height="1.2" fill="#8fa6bd"/>
<use href="#carB" transform="translate(200.0,566.5) rotate(-90) scale(1.1842105263157894,1.2)"/>
<rect x="220" y="517.5" width="22" height="44" fill="#bfd5ec"/>
<rect x="220" y="517.5" width="22" height="1.2" fill="#8fa6bd"/>
<use href="#carB" transform="translate(222.0,566.5) rotate(-90) scale(1.1842105263157894,1.2)"/>
<rect x="245" y="517.5" width="22" height="44" fill="#bfd5ec"/>
<rect x="245" y="517.5" width="22" height="1.2" fill="#8fa6bd"/>
<use href="#carB" transform="translate(247.0,566.5) rotate(-90) scale(1.1842105263157894,1.2)"/>
<rect x="267" y="517.5" width="23" height="44" fill="#dadada"/>
<rect x="267" y="517.5" width="23" height="1.2" fill="#8e8e8e"/>
<use href="#carG" transform="translate(269.5,566.5) rotate(-90) scale(1.1842105263157894,1.2)"/>
<rect x="292" y="517.5" width="23" height="44" fill="#dadada"/>
<rect x="292" y="517.5" width="23" height="1.2" fill="#8e8e8e"/>
<use href="#carG" transform="translate(294.5,566.5) rotate(-90) scale(1.1842105263157894,1.2)"/>
<rect x="320" y="517.5" width="22" height="44" fill="#dadada"/>
<rect x="320" y="517.5" width="22" height="1.2" fill="#8e8e8e"/>
<use href="#carG" transform="translate(322.0,566.5) rotate(-90) scale(1.1842105263157894,1.2)"/>
<rect x="424.3" y="517.5" width="21.80000000000001" height="44" fill="#bfd5ec"/>
<rect x="424.3" y="517.5" width="21.80000000000001" height="1.2" fill="#8fa6bd"/>
<use href="#carB" transform="translate(426.20000000000005,566.5) rotate(-90) scale(1.1842105263157894,1.2)"/>
<rect x="446.1" y="517.5" width="21.80000000000001" height="44" fill="#bfd5ec"/>
<rect x="446.1" y="517.5" width="21.80000000000001" height="1.2" fill="#8fa6bd"/>
<use href="#carB" transform="translate(448.0,566.5) rotate(-90) scale(1.1842105263157894,1.2)"/>
<rect x="471.55" y="517.5" width="21.80000000000001" height="44" fill="#bfd5ec"/>
<rect x="471.55" y="517.5" width="21.80000000000001" height="1.2" fill="#8fa6bd"/>
<use href="#carB" transform="translate(473.45000000000005,566.5) rotate(-90) scale(1.1842105263157894,1.2)"/>
<rect x="493.35" y="517.5" width="21.799999999999955" height="44" fill="#bfd5ec"/>
<rect x="493.35" y="517.5" width="21.799999999999955" height="1.2" fill="#8fa6bd"/>
<use href="#carB" transform="translate(495.25,566.5) rotate(-90) scale(1.1842105263157894,1.2)"/>
<rect x="518.8" y="517.5" width="21.799999999999955" height="44" fill="#bfd5ec"/>
<rect x="518.8" y="517.5" width="21.799999999999955" height="1.2" fill="#8fa6bd"/>
<use href="#carB" transform="translate(520.6999999999999,566.5) rotate(-90) scale(1.1842105263157894,1.2)"/>
<rect x="540.5999999999999" y="517.5" width="21.800000000000068" height="44" fill="#bfd5ec"/>
<rect x="540.5999999999999" y="517.5" width="21.800000000000068" height="1.2" fill="#8fa6bd"/>
<use href="#carB" transform="translate(542.5,566.5) rotate(-90) scale(1.1842105263157894,1.2)"/>
<rect x="566.05" y="517.5" width="21.799999999999955" height="44" fill="#bfd5ec"/>
<rect x="566.05" y="517.5" width="21.799999999999955" height="1.2" fill="#8fa6bd"/>
<use href="#carB" transform="translate(567.9499999999999,566.5) rotate(-90) scale(1.1842105263157894,1.2)"/>
<rect x="587.8499999999999" y="517.5" width="21.800000000000068" height="44" fill="#bfd5ec"/>
<rect x="587.8499999999999" y="517.5" width="21.800000000000068" height="1.2" fill="#8fa6bd"/>
<use href="#carB" transform="translate(589.75,566.5) rotate(-90) scale(1.1842105263157894,1.2)"/>
<rect x="613.3" y="517.5" width="21.799999999999955" height="44" fill="#dadada"/>
<rect x="613.3" y="517.5" width="21.799999999999955" height="1.2" fill="#8e8e8e"/>
<use href="#carG" transform="translate(615.1999999999999,566.5) rotate(-90) scale(1.1842105263157894,1.2)"/>
<rect x="635.0999999999999" y="517.5" width="21.800000000000068" height="44" fill="#dadada"/>
<rect x="635.0999999999999" y="517.5" width="21.800000000000068" height="1.2" fill="#8e8e8e"/>
<use href="#carG" transform="translate(637.0,566.5) rotate(-90) scale(1.1842105263157894,1.2)"/>
<rect x="699" y="517.5" width="22.5" height="44" fill="#dadada"/>
<rect x="699" y="517.5" width="22.5" height="1.2" fill="#8e8e8e"/>
<use href="#carG" transform="translate(701.25,566.5) rotate(-90) scale(1.1842105263157894,1.2)"/>
<rect x="721.5" y="517.5" width="22.5" height="44" fill="#dadada"/>
<rect x="721.5" y="517.5" width="22.5" height="1.2" fill="#8e8e8e"/>
<use href="#carG" transform="translate(723.75,566.5) rotate(-90) scale(1.1842105263157894,1.2)"/>
<rect x="746.7" y="517.5" width="21.799999999999955" height="44" fill="#bfd5ec"/>
<rect x="746.7" y="517.5" width="21.799999999999955" height="1.2" fill="#8fa6bd"/>
<use href="#carB" transform="translate(748.6,566.5) rotate(-90) scale(1.1842105263157894,1.2)"/>
<rect x="768.5" y="517.5" width="21.799999999999955" height="44" fill="#bfd5ec"/>
<rect x="768.5" y="517.5" width="21.799999999999955" height="1.2" fill="#8fa6bd"/>
<use href="#carB" transform="translate(770.4,566.5) rotate(-90) scale(1.1842105263157894,1.2)"/>
<rect x="793.6" y="517.5" width="22.100000000000023" height="44" fill="#bfd5ec"/>
<rect x="793.6" y="517.5" width="22.100000000000023" height="1.2" fill="#8fa6bd"/>
<use href="#carB" transform="translate(795.6500000000001,566.5) rotate(-90) scale(1.1842105263157894,1.2)"/>
<rect x="815.7" y="517.5" width="22.09999999999991" height="44" fill="#bfd5ec"/>
<rect x="815.7" y="517.5" width="22.09999999999991" height="1.2" fill="#8fa6bd"/>
<use href="#carB" transform="translate(817.75,566.5) rotate(-90) scale(1.1842105263157894,1.2)"/>
<rect x="840.6" y="517.5" width="22.100000000000023" height="44" fill="#bfd5ec"/>
<rect x="840.6" y="517.5" width="22.100000000000023" height="1.2" fill="#8fa6bd"/>
<use href="#carB" transform="translate(842.6500000000001,566.5) rotate(-90) scale(1.1842105263157894,1.2)"/>
<rect x="862.7" y="517.5" width="22.199999999999932" height="44" fill="#bfd5ec"/>
<rect x="862.7" y="517.5" width="22.199999999999932" height="1.2" fill="#8fa6bd"/>
<use href="#carB" transform="translate(864.8,566.5) rotate(-90) scale(1.1842105263157894,1.2)"/>
<rect x="884.9" y="517.5" width="22.100000000000023" height="44" fill="#bfd5ec"/>
<rect x="884.9" y="517.5" width="22.100000000000023" height="1.2" fill="#8fa6bd"/>
<use href="#carB" transform="translate(886.95,566.5) rotate(-90) scale(1.1842105263157894,1.2)"/>
<rect x="148.6" y="530" width="1.8" height="23" fill="#a8a8a8" opacity=".85"/>
<rect x="195.4" y="530" width="1.8" height="23" fill="#a8a8a8" opacity=".85"/>
<rect x="242.6" y="530" width="1.8" height="23" fill="#a8a8a8" opacity=".85"/>
<rect x="289.90000000000003" y="530" width="1.8" height="23" fill="#a8a8a8" opacity=".85"/>
<rect x="316.6" y="530" width="1.8" height="23" fill="#a8a8a8" opacity=".85"/>
<rect x="421.90000000000003" y="530" width="1.8" height="23" fill="#a8a8a8" opacity=".85"/>
<rect x="468.8" y="530" width="1.8" height="23" fill="#a8a8a8" opacity=".85"/>
<rect x="516.1" y="530" width="1.8" height="23" fill="#a8a8a8" opacity=".85"/>
<rect x="563.3000000000001" y="530" width="1.8" height="23" fill="#a8a8a8" opacity=".85"/>
<rect x="610.6" y="530" width="1.8" height="23" fill="#a8a8a8" opacity=".85"/>
<rect x="657.6" y="530" width="1.8" height="23" fill="#a8a8a8" opacity=".85"/>
<rect x="744.4" y="530" width="1.8" height="23" fill="#a8a8a8" opacity=".85"/>
<rect x="791.1" y="530" width="1.8" height="23" fill="#a8a8a8" opacity=".85"/>
<rect x="838.3000000000001" y="530" width="1.8" height="23" fill="#a8a8a8" opacity=".85"/>
<rect x="907.4" y="530" width="1.8" height="23" fill="#a8a8a8" opacity=".85"/>
<rect x="125.1" y="519" width="0.8" height="42" fill="#f0f0f0" opacity=".7"/>
<rect x="147.6" y="519" width="0.8" height="42" fill="#f0f0f0" opacity=".7"/>
<rect x="171.6" y="519" width="0.8" height="42" fill="#94adc8" opacity=".7"/>
<rect x="195.6" y="519" width="0.8" height="42" fill="#94adc8" opacity=".7"/>
<rect x="219.6" y="519" width="0.8" height="42" fill="#94adc8" opacity=".7"/>
<rect x="241.6" y="519" width="0.8" height="42" fill="#94adc8" opacity=".7"/>
<rect x="266.6" y="519" width="0.8" height="42" fill="#94adc8" opacity=".7"/>
<rect x="289.6" y="519" width="0.8" height="42" fill="#f0f0f0" opacity=".7"/>
<rect x="314.6" y="519" width="0.8" height="42" fill="#f0f0f0" opacity=".7"/>
<rect x="341.6" y="519" width="0.8" height="42" fill="#f0f0f0" opacity=".7"/>
<rect x="445.70000000000005" y="519" width="0.8" height="42" fill="#94adc8" opacity=".7"/>
<rect x="467.50000000000006" y="519" width="0.8" height="42" fill="#94adc8" opacity=".7"/>
<rect x="492.95000000000005" y="519" width="0.8" height="42" fill="#94adc8" opacity=".7"/>
<rect x="514.75" y="519" width="0.8" height="42" fill="#94adc8" opacity=".7"/>
<rect x="540.1999999999999" y="519" width="0.8" height="42" fill="#94adc8" opacity=".7"/>
<rect x="562.0" y="519" width="0.8" height="42" fill="#94adc8" opacity=".7"/>
<rect x="587.4499999999999" y="519" width="0.8" height="42" fill="#94adc8" opacity=".7"/>
<rect x="609.25" y="519" width="0.8" height="42" fill="#94adc8" opacity=".7"/>
<rect x="634.6999999999999" y="519" width="0.8" height="42" fill="#f0f0f0" opacity=".7"/>
<rect x="656.5" y="519" width="0.8" height="42" fill="#f0f0f0" opacity=".7"/>
<rect x="721.1" y="519" width="0.8" height="42" fill="#f0f0f0" opacity=".7"/>
<rect x="743.6" y="519" width="0.8" height="42" fill="#f0f0f0" opacity=".7"/>
<rect x="768.1" y="519" width="0.8" height="42" fill="#94adc8" opacity=".7"/>
<rect x="789.9" y="519" width="0.8" height="42" fill="#94adc8" opacity=".7"/>
<rect x="815.3000000000001" y="519" width="0.8" height="42" fill="#94adc8" opacity=".7"/>
<rect x="837.4" y="519" width="0.8" height="42" fill="#94adc8" opacity=".7"/>
<rect x="862.3000000000001" y="519" width="0.8" height="42" fill="#94adc8" opacity=".7"/>
<rect x="884.5" y="519" width="0.8" height="42" fill="#94adc8" opacity=".7"/>
<rect x="906.6" y="519" width="0.8" height="42" fill="#94adc8" opacity=".7"/>
<path d="M349 518.5 H345.2 V562" fill="none" stroke="#111" stroke-width="2.4"/>
<path d="M362.5 518.5 H366.3 V562" fill="none" stroke="#111" stroke-width="2.4"/>
<g stroke="#9a9a9a" stroke-width="0.7"><line x1="355.75" y1="527.5" x2="355.75" y2="558"/><line x1="350.75" y1="534" x2="360.75" y2="534"/><line x1="350.75" y1="539" x2="360.75" y2="539"/><line x1="350.75" y1="544" x2="360.75" y2="544"/><line x1="350.75" y1="549" x2="360.75" y2="549"/></g>
<path d="M670 518.5 H666.2 V562" fill="none" stroke="#111" stroke-width="2.4"/>
<path d="M685 518.5 H688.8 V562" fill="none" stroke="#111" stroke-width="2.4"/>
<g stroke="#9a9a9a" stroke-width="0.7"><line x1="677.5" y1="527.5" x2="677.5" y2="558"/><line x1="672.5" y1="534" x2="682.5" y2="534"/><line x1="672.5" y1="539" x2="682.5" y2="539"/><line x1="672.5" y1="544" x2="682.5" y2="544"/><line x1="672.5" y1="549" x2="682.5" y2="549"/></g>
<path d="M37 517 H41.5 V562" fill="none" stroke="#111" stroke-width="2.4"/>
<g stroke="#9a9a9a" stroke-width="0.7"><line x1="31" y1="527" x2="31" y2="556"/><line x1="24" y1="536" x2="37" y2="536"/><line x1="24" y1="541" x2="37" y2="541"/><line x1="24" y1="546" x2="37" y2="546"/></g>
<line x1="20" y1="517" x2="42" y2="517" stroke="#c8c8c8" stroke-width="1"/>
<g fill="none" stroke="#e6131a" stroke-linecap="round" stroke-linejoin="round"><line x1="924.5" y1="160" x2="924.5" y2="478" stroke-width="10"/><polyline points="902.5,464 924,481.5 944.5,464" stroke-width="9"/><line x1="903" y1="488" x2="864" y2="485" stroke-width="9"/><polyline points="880.5,466.5 861.5,485 877.5,505" stroke-width="9"/><ellipse cx="838" cy="432.8" rx="22" ry="45" stroke-width="10.5"/></g>
</svg>
</body></html>
